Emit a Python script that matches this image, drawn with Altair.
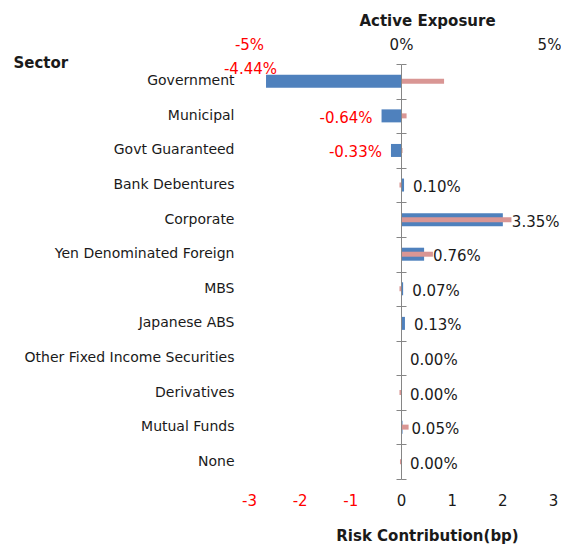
import altair as alt
import pandas as pd

sectors = ["Government", "Municipal", "Govt Guaranteed", "Bank Debentures", "Corporate",
           "Yen Denominated Foreign", "MBS", "Japanese ABS", "Other Fixed Income Securities",
           "Derivatives", "Mutual Funds", "None"]
exposure = [-4.44, -0.64, -0.33, 0.10, 3.35, 0.76, 0.07, 0.13, 0.00, 0.00, 0.05, 0.00]
risk = [0.85, 0.11, 0.03, -0.03, 2.18, 0.63, -0.03, 0.02, 0.00, -0.03, 0.15, -0.02]

exp_ticks = [-5, 0, 5]
risk_ticks = [-3, -2, -1, 0, 1, 2, 3]

df = pd.DataFrame({"sector": sectors, "exposure": exposure, "risk": risk})
df["label"] = [f"{v:.2f}%" for v in exposure]

FONT = "DejaVu Sans"
DARK = "#1a1a1a"
RED = "#FF0000"
GRAY = "#868686"
W, H = 304, 415

ysc = alt.Scale(domain=sectors, paddingInner=0, paddingOuter=0)
exp_scale = alt.Scale(domain=[-5, 5], nice=False)
risk_scale = alt.Scale(domain=[-3, 3], nice=False)
color_expr = {"expr": f"datum.value < 0 ? '{RED}' : '{DARK}'"}

base = alt.Chart(df)

blue = base.mark_bar(color="#4F81BD", size=13).encode(
    y=alt.Y("sector:N", sort=sectors, scale=ysc,
            axis=alt.Axis(title="Sector", orient="left", domain=False, ticks=False, grid=False,
                          labelPadding=15, labelFontSize=14, labelColor=DARK, labelFont=FONT,
                          labelLimit=300, titleFont=FONT, titleFontSize=15, titleFontWeight="bold",
                          titleColor=DARK, titleAngle=0, titleAlign="left", titleBaseline="middle",
                          titleX=-236, titleY=-2)),
    x=alt.X("exposure:Q", scale=exp_scale,
            axis=alt.Axis(title="Active Exposure", orient="top", values=exp_ticks,
                          labelExpr="datum.value + '%'", labelFlush=False, domain=False,
                          ticks=False, grid=False, labelFont=FONT, labelFontSize=15,
                          labelColor=color_expr,
                          labelOffset={"expr": "datum.value > 0 ? -4 : 0"},
                          labelPadding=12, titleFont=FONT,
                          titleFontSize=15, titleFontWeight="bold", titleColor=DARK,
                          titleX=178, titleY=-44, titleAlign="center",
                          titleBaseline="middle")),
)

pink = base.mark_bar(color="#D99694", size=5).encode(
    y=alt.Y("sector:N", sort=sectors, scale=ysc,
            axis=alt.Axis(orient="left", offset=-152, domain=True, domainColor=GRAY,
                          ticks=True, tickBand="extent", tickSize=5, tickColor=GRAY,
                          labels=False, title=None, grid=False, zindex=1)),
    x=alt.X("risk:Q", scale=risk_scale,
            axis=alt.Axis(title="Risk Contribution(bp)", orient="bottom", values=risk_ticks,
                          labelExpr="datum.value + ''", labelFlush=False,
                          domain=False, ticks=False, grid=False, labelFont=FONT,
                          labelFontSize=15, labelColor=color_expr, labelPadding=14,
                          titleFont=FONT, titleFontSize=15, titleFontWeight="bold",
                          titleColor=DARK, titleX=178, titleY=56, titleAlign="center",
                          titleBaseline="middle")),
)

pos = base.transform_filter("datum.exposure >= 0").mark_text(
    align="left", baseline="middle", dx=9, dy=2, fontSize=15, font=FONT, color=DARK
).encode(
    y=alt.Y("sector:N", sort=sectors, scale=ysc,
            axis=alt.Axis(orient="right", offset=-152, domain=False, ticks=True,
                          tickBand="extent", tickSize=5, tickColor=GRAY, labels=False,
                          title=None, grid=False, zindex=1)),
    x=alt.X("exposure:Q", scale=exp_scale, axis=None),
    text="label:N",
)

neg = base.transform_filter("datum.exposure < 0 && datum.exposure >= -4").mark_text(
    align="right", baseline="middle", dx=-9, dy=2, fontSize=15, font=FONT, color=RED
).encode(
    y=alt.Y("sector:N", sort=sectors, scale=ysc, axis=None),
    x=alt.X("exposure:Q", scale=exp_scale, axis=None),
    text="label:N",
)

negfar = base.transform_filter("datum.exposure < -4").mark_text(
    align="right", baseline="middle", dx=11, dy=-12, fontSize=15, font=FONT, color=RED
).encode(
    y=alt.Y("sector:N", sort=sectors, scale=ysc, axis=None),
    x=alt.X("exposure:Q", scale=exp_scale, axis=None),
    text="label:N",
)

chart = alt.layer(blue, pink, pos, neg, negfar).resolve_scale(
    x="independent"
).resolve_axis(
    y="independent", x="independent"
).properties(
    width=W, height=H, autosize="none",
    padding={"left": 241, "top": 56, "right": 8, "bottom": 65},
).configure_view(stroke=None)

chart.save("out.html", embed_options={"renderer": "svg", "actions": False})
